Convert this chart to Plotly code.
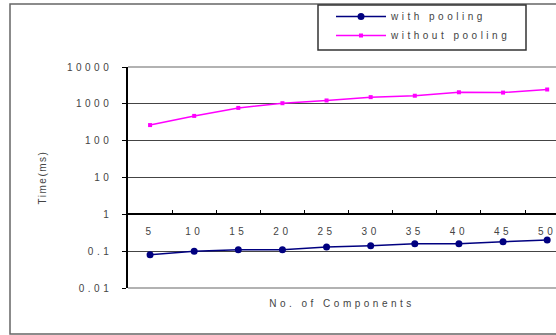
import plotly.graph_objects as go

categories = ["5", "10", "15", "20", "25", "30", "35", "40", "45", "50"]
with_pooling = [0.08, 0.10, 0.11, 0.11, 0.13, 0.14, 0.16, 0.16, 0.18, 0.20]
without_pooling = [265, 470, 775, 1040, 1235, 1520, 1660, 2060, 2020, 2450]
y_tickvals = [0.01, 0.1, 1, 10, 100, 1000, 10000]
y_ticktext = ["0.01", "0.1", "1", "10", "100", "1000", "10000"]

FONT = "Liberation Sans"
TXT = "#444444"

PW = 428.0  # plot width in px
PH = 221.0  # plot height in px


def px(wx):
    return (wx - 128) / PW


def py(wy):
    return (288 - wy) / PH


def spaced(s, sp=3.5):
    return '<span style="letter-spacing:%spx">%s</span>' % (sp, s)


fig = go.Figure()
fig.add_trace(go.Scatter(
    x=categories, y=with_pooling, name=spaced("with pooling"), mode="lines+markers",
    line=dict(color="#000080", width=1.5),
    marker=dict(color="#000080", size=7, symbol="circle"),
))
fig.add_trace(go.Scatter(
    x=categories, y=without_pooling, name=spaced("without pooling"), mode="lines+markers",
    line=dict(color="#FF00FF", width=1.5),
    marker=dict(color="#FF00FF", size=4, symbol="square"),
))

fig.update_layout(
    width=556, height=335,
    margin=dict(l=128, r=0, t=67, b=47, autoexpand=False),
    paper_bgcolor="white", plot_bgcolor="white",
    font=dict(family=FONT, size=10, color=TXT),
    showlegend=True,
    legend=dict(
        x=px(331), y=py(2), xanchor="left", yanchor="top",
        bgcolor="rgba(0,0,0,0)", borderwidth=0,
        font=dict(family=FONT, size=10, color=TXT),
        tracegroupgap=0, itemwidth=50,
    ),
    xaxis=dict(
        type="category", range=[-0.5, 9.2],
        anchor="free", position=1 / 3,
        showline=True, linecolor="black", linewidth=1.5,
        ticks="inside", ticklen=4, tickcolor="black", tickson="boundaries",
        showgrid=False, zeroline=False,
        tickvals=categories, ticktext=[spaced(c) for c in categories],
        ticklabelstandoff=8,
        tickfont=dict(family=FONT, size=10, color=TXT),
        title=dict(text=spaced("No. of Components"), standoff=63,
                   font=dict(family=FONT, size=10, color=TXT)),
    ),
    yaxis=dict(
        type="log", range=[-2, 4],
        tickvals=y_tickvals, ticktext=[spaced(t) for t in y_ticktext],
        showline=True, linecolor="black", linewidth=1.5,
        ticks="outside", ticklen=4, tickcolor="black",
        showgrid=True, gridcolor="#444444", gridwidth=1.2,
        zeroline=False,
        ticklabelstandoff=8,
        tickfont=dict(family=FONT, size=10, color=TXT),
        title=dict(text=spaced("Time(ms)", 1.5), standoff=18,
                   font=dict(family=FONT, size=10, color=TXT)),
    ),
    shapes=[
        dict(type="line", xref="paper", yref="paper", x0=0, x1=1.1, y0=1, y1=1,
             line=dict(color="#999999", width=1.5), layer="above"),
        dict(type="line", xref="paper", yref="paper", x0=0, x1=1.1, y0=0, y1=0,
             line=dict(color="#999999", width=1.5), layer="above"),
        dict(type="rect", xref="paper", yref="paper",
             x0=px(10), x1=1.2, y0=py(334), y1=py(4),
             line=dict(color="#666666", width=1.5), layer="below"),
        dict(type="rect", xref="paper", yref="paper",
             x0=px(318), x1=px(526), y0=py(50), y1=py(5),
             line=dict(color="#333333", width=1.5), fillcolor="white", layer="below"),
    ],
)

fig.write_html(
    "out.html",
    config={"displayModeBar": False},
    post_script="document.body.style.margin='0';document.body.style.overflow='hidden';",
)
